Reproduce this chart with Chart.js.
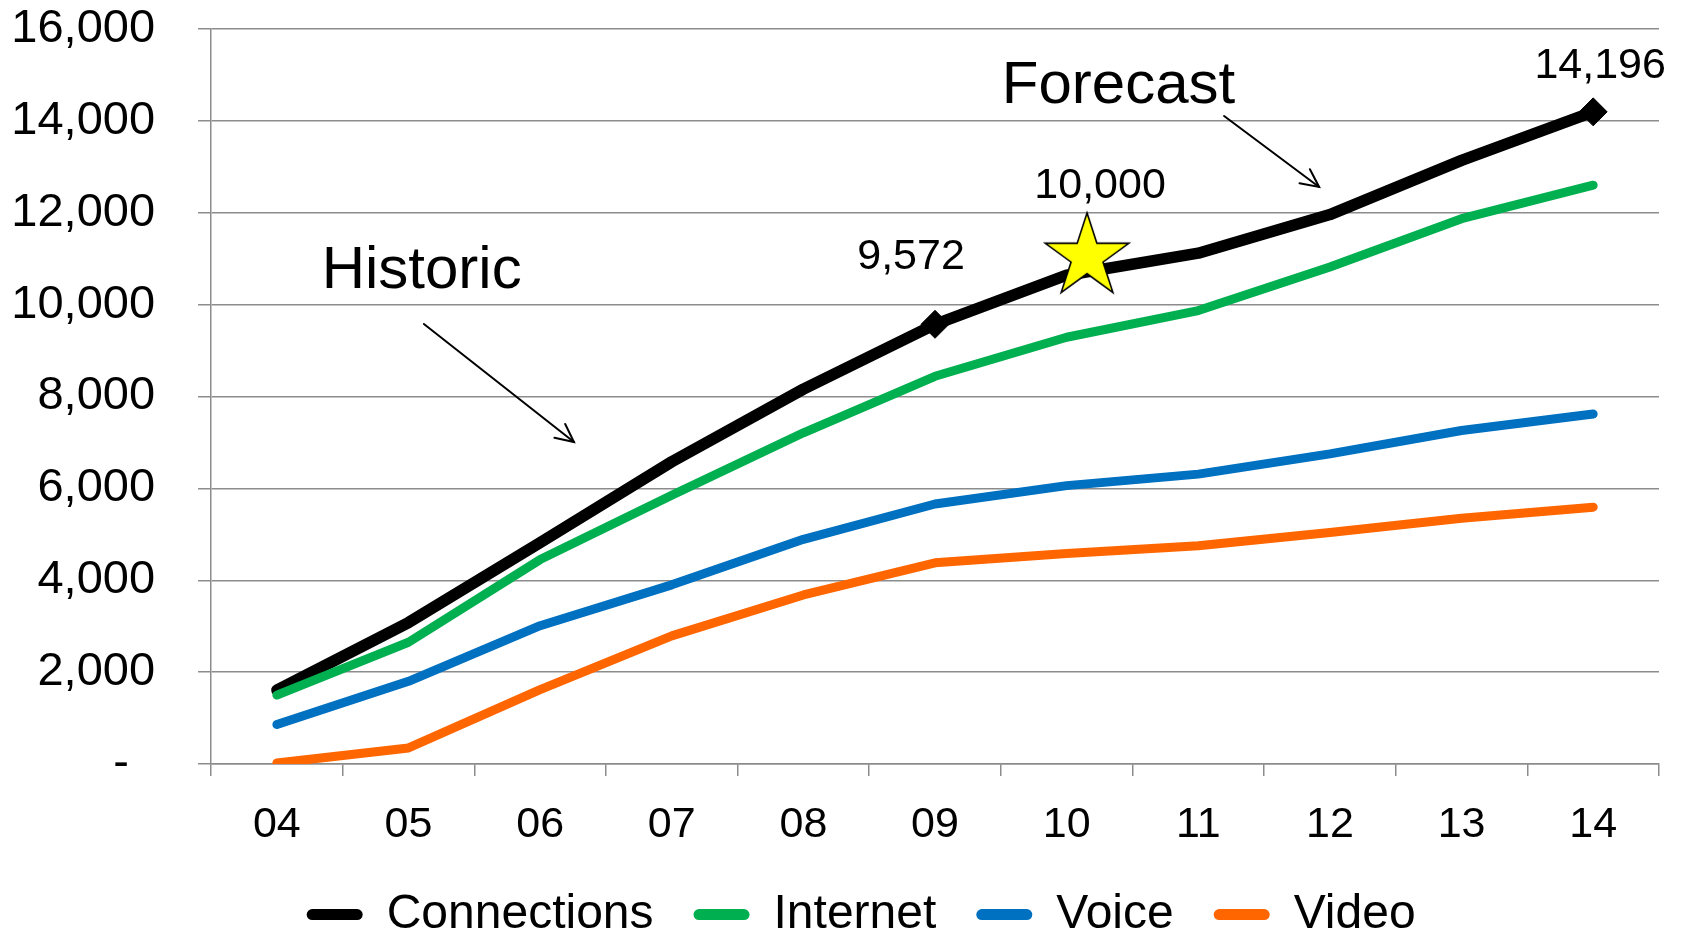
<!DOCTYPE html>
<html>
<head>
<meta charset="utf-8">
<script src="https://cdn.jsdelivr.net/npm/chart.js@4.4.0/dist/chart.umd.min.js"></script>
<style>
html,body{margin:0;padding:0;background:#ffffff;overflow:hidden;}
#wrap{width:1681px;height:935px;position:relative;}
</style>
</head>
<body>
<div id="wrap"><canvas id="c"></canvas></div>
<script>
// ---- data ----
const categories = ['04','05','06','07','08','09','10','11','12','13','14'];
const connections = [1610, 3080, 4820, 6580, 8160, 9572, 10640, 11120, 11960, 13140, 14196];
const internet    = [1500, 2650, 4450, 5850, 7210, 8440, 9290, 9870, 10820, 11870, 12600];
const voice       = [860, 1800, 3010, 3900, 4890, 5660, 6060, 6310, 6750, 7260, 7620];
const video       = [20, 350, 1620, 2790, 3680, 4380, 4580, 4750, 5040, 5350, 5590];
const seriesNames = ['Connections','Internet','Voice','Video'];
const yMin = 0, yMax = 16000, yStep = 2000;
// milestone star (category index, value) and its label
const milestone = [{x: 6.155, y: 11040}];
const milestoneLabel = {text: '10,000', x: 6.254, y: 12322};
// labelled connection points (indices into connections)
const labelledPoints = [5, 10];
// text annotations (category index, value)
const notes = [
  {text: 'Historic', x: 1.10, y: 10362},
  {text: 'Forecast', x: 6.394, y: 14390}
];
const arrows = [
  {x1: 1.117, y1: 9579, x2: 2.257, y2: 7010},
  {x1: 7.196, y1: 14107, x2: 7.918, y2: 12561}
];

const FONT = '"Liberation Sans", Arial, Helvetica, sans-serif';
const colors = ['#000000', '#00B050', '#0070C0', '#FF6600'];
const gridColor = '#8c8c8c';

// star image for the milestone point
function makeStar(R) {
  const size = Math.ceil(R * 2 + 6);
  const cv = document.createElement('canvas');
  cv.width = size; cv.height = size;
  const g = cv.getContext('2d');
  const cx = size / 2, cy = size / 2;
  const r = R * 0.382;
  g.beginPath();
  for (let i = 0; i < 10; i++) {
    const ang = -Math.PI / 2 + i * Math.PI / 5;
    const rad = i % 2 === 0 ? R : r;
    const px = cx + rad * Math.cos(ang), py = cy + rad * Math.sin(ang);
    if (i === 0) g.moveTo(px, py); else g.lineTo(px, py);
  }
  g.closePath();
  g.fillStyle = '#FFFF00';
  g.fill();
  g.lineWidth = 1.6;
  g.strokeStyle = '#000000';
  g.lineJoin = 'miter';
  g.stroke();
  return cv;
}
const starImg = makeStar(44);

const annotationPlugin = {
  id: 'annot',
  afterLayout(chart) {
    // nudge the legend so it is centred like the original
    if (chart.legend) { chart.legend.left += 26; chart.legend.right += 26; }
  },
  afterDatasetsDraw(chart) {
    const ctx = chart.ctx;
    const xs = chart.scales.x2, ys = chart.scales.y;
    ctx.save();
    ctx.fillStyle = '#000';
    ctx.textBaseline = 'alphabetic';
    ctx.textAlign = 'center';
    ctx.font = '60px ' + FONT;
    notes.forEach(n => ctx.fillText(n.text, xs.getPixelForValue(n.x), ys.getPixelForValue(n.y)));
    ctx.font = '43px ' + FONT;
    ctx.fillText(milestoneLabel.text, xs.getPixelForValue(milestoneLabel.x), ys.getPixelForValue(milestoneLabel.y));
    const meta = chart.getDatasetMeta(0);
    const offs = {5: [-24, -55], 10: [7, -34]};
    labelledPoints.forEach(i => {
      const pt = meta.data[i];
      const o = offs[i] || [0, -40];
      ctx.fillText(connections[i].toLocaleString('en-US'), pt.x + o[0], pt.y + o[1]);
    });
    ctx.strokeStyle = '#000';
    ctx.lineWidth = 2;
    ctx.lineCap = 'round';
    arrows.forEach(a => {
      const x1 = xs.getPixelForValue(a.x1), y1 = ys.getPixelForValue(a.y1);
      const x2 = xs.getPixelForValue(a.x2), y2 = ys.getPixelForValue(a.y2);
      ctx.beginPath(); ctx.moveTo(x1, y1); ctx.lineTo(x2, y2); ctx.stroke();
      const ang = Math.atan2(y2 - y1, x2 - x1);
      const L = 20, spread = 0.45;
      ctx.beginPath();
      ctx.moveTo(x2 - L * Math.cos(ang - spread), y2 - L * Math.sin(ang - spread));
      ctx.lineTo(x2, y2);
      ctx.lineTo(x2 - L * Math.cos(ang + spread), y2 - L * Math.sin(ang + spread));
      ctx.stroke();
    });
    ctx.restore();
  }
};

const seriesData = [connections, internet, voice, video];
const lineWidths = [11.5, 9, 9, 9];
const datasets = seriesData.map((d, i) => ({
  label: seriesNames[i],
  data: d,
  borderColor: colors[i],
  backgroundColor: colors[i],
  borderWidth: lineWidths[i],
  borderCapStyle: 'round',
  borderJoinStyle: 'round',
  tension: 0,
  fill: false,
  order: 10 - i,
  pointRadius: i === 0 ? d.map((v, k) => labelledPoints.includes(k) ? 14 : 0) : 0,
  pointStyle: 'rectRot',
  pointBackgroundColor: colors[i],
  pointBorderColor: colors[i],
  pointBorderWidth: 1,
  pointHoverRadius: 0,
  xAxisID: 'x',
  yAxisID: 'y'
}));
datasets.push({
  label: 'milestone',
  data: milestone,
  type: 'scatter',
  showLine: false,
  pointStyle: starImg,
  pointRadius: 1,
  pointHoverRadius: 1,
  order: 0,
  xAxisID: 'x2',
  yAxisID: 'y'
});

new Chart(document.getElementById('c'), {
  type: 'line',
  data: {labels: categories, datasets: datasets},
  options: {
    responsive: true,
    maintainAspectRatio: false,
    animation: false,
    devicePixelRatio: 1,
    layout: {autoPadding: false, padding: {left: 11.3, right: 22, top: 0, bottom: -13.6}},
    plugins: {
      tooltip: {enabled: false},
      legend: {
        position: 'bottom',
        labels: {
          font: {family: FONT, size: 48},
          color: '#000',
          boxWidth: 56,
          boxHeight: 11,
          padding: 40,
          useBorderRadius: true,
          borderRadius: 5.5,
          filter: item => item.datasetIndex < 4,
          sort: (a, b) => a.datasetIndex - b.datasetIndex,
          generateLabels: chart => Chart.defaults.plugins.legend.labels.generateLabels(chart).map(it => {
            it.lineWidth = 0;
            it.strokeStyle = it.fillStyle;
            return it;
          })
        }
      }
    },
    scales: {
      x: {
        type: 'category',
        offset: true,
        grid: {
          offset: true,
          drawOnChartArea: false,
          drawTicks: true,
          tickLength: 12,
          color: gridColor,
          lineWidth: 1.5
        },
        border: {display: true, color: gridColor, width: 1.5},
        ticks: {font: {family: FONT, size: 43}, color: '#000', padding: 23, maxRotation: 0, autoSkip: false},
        afterFit: s => { s.height -= s.options.ticks.padding; }
      },
      x2: {
        type: 'linear',
        display: false,
        min: -0.5,
        max: categories.length - 0.5,
        offset: false
      },
      y: {
        min: yMin,
        max: yMax,
        ticks: {
          stepSize: yStep,
          font: {family: FONT, size: 47},
          color: '#000',
          padding: 43,
          callback: v => v === 0 ? '-  ' : v.toLocaleString('en-US')
        },
        grid: {color: gridColor, lineWidth: 1.5, tickLength: 13, drawTicks: true},
        border: {display: true, color: gridColor, width: 1.5},
        afterFit: s => {
          s.width -= s.options.ticks.padding;
          s.paddingTop = 29;
          s.paddingBottom = 29;
        }
      }
    }
  },
  plugins: [annotationPlugin]
});
</script>
</body>
</html>
